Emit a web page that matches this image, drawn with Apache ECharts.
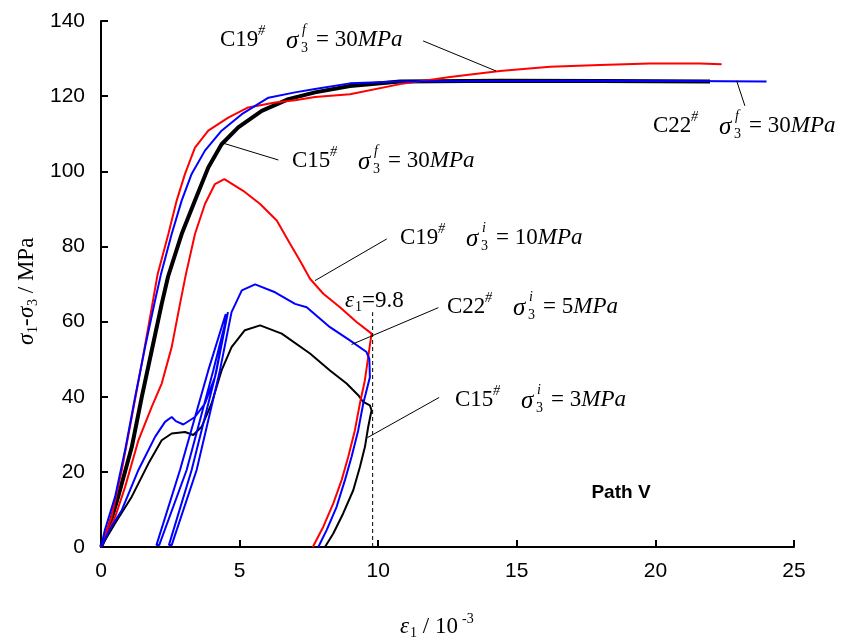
<!DOCTYPE html>
<html>
<head>
<meta charset="utf-8">
<script src="https://cdn.jsdelivr.net/npm/echarts@6/dist/echarts.min.js"></script>
<style>
  html, body { margin: 0; padding: 0; background: #fff; }
  #chart { width: 857px; height: 642px; }
</style>
</head>
<body>
<div id="chart"></div>
<script>
// axis ticks
const xTicks = [0, 5, 10, 15, 20, 25]
const yTicks = [0, 20, 40, 60, 80, 100, 120, 140]

// C19#  sigma3 f = 30 MPa (red, loading)
const c19fX = [0, 0.38, 0.75, 1.11, 1.47, 1.77, 2.04, 2.43, 2.73, 3.03, 3.39, 3.87, 4.59, 5.31, 6.28, 7.0, 7.72, 8.98, 10.79, 12.59, 14.39, 16.2, 18.0, 19.8, 21.6, 22.39]
const c19fY = [0, 8.0, 20.5, 34.6, 48.8, 61.2, 72.5, 83.3, 92.2, 99.3, 106.3, 110.8, 114.3, 117.0, 118.3, 118.9, 119.8, 120.5, 123.2, 125.1, 126.7, 127.8, 128.3, 128.7, 128.7, 128.5]

// C22#  sigma3 f = 30 MPa (blue, loading)
const c22fX = [0, 0.14, 0.51, 0.87, 1.23, 1.59, 1.95, 2.16, 2.55, 2.91, 3.27, 3.75, 4.35, 5.08, 6.04, 7.0, 7.72, 8.98, 10.79, 14.4, 18.0, 21.0, 24.01]
const c22fY = [0, 4.5, 13.4, 25.8, 39.9, 53.2, 65.6, 72.5, 83.3, 92.2, 99.3, 105.5, 110.8, 115.2, 119.6, 121.0, 121.9, 123.4, 123.9, 124.0, 124.1, 124.0, 123.9]

// C15#  sigma3 f = 30 MPa (black, loading)
const c15fX = [0, 0.26, 0.62, 1.11, 1.47, 1.83, 2.19, 2.42, 2.91, 3.39, 3.87, 4.35, 4.95, 5.80, 6.76, 7.72, 8.98, 10.79, 14.39, 18.0, 21.97]
const c15fY = [0, 4.5, 13.4, 26.6, 39.9, 52.3, 64.7, 72.0, 83.3, 92.2, 101.0, 107.2, 111.7, 116.1, 119.2, 121.0, 122.7, 123.9, 124.1, 124.0, 123.9]

// C19#  sigma3 i = 10 MPa (red, load and unload)
const c19iX = [0, 0.51, 0.87, 1.35, 1.83, 2.19, 2.55, 2.85, 3.06, 3.39, 3.75, 4.11, 4.45, 5.13, 5.74, 6.34, 6.82, 7.18, 7.54, 8.02, 8.62, 9.22, 9.76, 9.64, 9.52, 9.34, 9.16, 8.92, 8.68, 8.38, 8.02, 7.64]
const c19iY = [0, 8.0, 16.0, 28.4, 37.3, 43.5, 53.2, 64.7, 72.5, 83.3, 91.3, 96.6, 97.9, 94.8, 91.3, 86.9, 80.7, 76.2, 71.4, 67.4, 63.8, 59.9, 56.8, 50.6, 44.4, 38.2, 31.1, 24.0, 17.8, 11.6, 5.4, 0]

// C22#  sigma3 i = 5 MPa (blue, with unload-reload cycles)
const c22iX = [0, 0.3, 0.75, 1.35, 1.95, 2.31, 2.55, 2.7, 2.97, 3.39, 3.75, 4.11, 4.45, 4.5, 3.87, 2.85, 2.0, 2.1, 3.09, 4.05, 4.58, 4.17, 3.27, 2.45, 2.55, 3.45, 4.29, 4.71, 5.08, 5.56, 6.28, 7.0, 7.42, 8.26, 8.98, 9.58, 9.68, 9.70, 9.46, 9.28, 9.04, 8.80, 8.50, 8.14, 7.84]
const c22iY = [0, 4.5, 9.8, 20.5, 29.3, 33.3, 34.6, 33.5, 32.6, 34.6, 38.2, 45.2, 58.0, 62.0, 47.0, 20.5, 0.5, 0.5, 20.5, 47.0, 62.5, 47.0, 20.5, 0.5, 0.5, 20.5, 47.0, 62.5, 68.3, 69.9, 67.8, 64.7, 63.8, 58.5, 55.0, 51.9, 50.1, 45.2, 38.2, 31.1, 24.0, 17.8, 10.7, 4.5, 0]

// C15#  sigma3 i = 3 MPa (black, load and unload)
const c15iX = [0, 0.51, 1.11, 1.71, 2.19, 2.55, 3.03, 3.33, 3.63, 3.99, 4.35, 4.71, 5.19, 5.74, 6.52, 7.54, 8.26, 8.86, 9.28, 9.46, 9.70, 9.76, 9.64, 9.52, 9.34, 9.10, 8.74, 8.38, 8.08]
const c15iY = [0, 6.3, 13.4, 22.2, 28.4, 30.2, 30.6, 29.8, 32.0, 38.2, 47.0, 53.2, 57.7, 59.0, 56.8, 51.5, 47.0, 43.5, 40.4, 38.6, 37.7, 36.4, 32.0, 26.6, 21.3, 15.1, 9.0, 3.6, 0]

// strain marker eps1 = 9.8
const markX = [9.8, 9.8]
const markY = [0, 62.5]

// leader lines, [x0, y0, x1, y1] in data units
const leaders = [
  [11.62, 134.7, 14.25, 126.7],
  [22.93, 124.1, 23.23, 117.4],
  [4.40, 107.5, 6.40, 103.0],
  [7.72, 70.9, 10.31, 82.0],
  [9.04, 53.9, 12.17, 63.7],
  [9.61, 29.1, 12.20, 39.8]
]

const zip = (xs, ys) => xs.map((x, i) => [x, ys[i]])

const serif = '"Liberation Serif", "Times New Roman", serif'
const sans = '"Liberation Sans", Arial, sans-serif'

function txt(x, y, text, font, extra) {
  return Object.assign({
    type: 'text', x: x, y: y, silent: true,
    style: { text: text, font: font, fill: '#000', verticalAlign: 'middle', textVerticalAlign: 'middle' }
  }, extra || {})
}

// "C19#  σ3f = 30MPa" style label, left edge and vertical middle in pixels
function specimenLabel(left, mid, name, sup, value) {
  return {
    type: 'group', x: left, y: mid, silent: true,
    children: [
      txt(0, 0, name, '23px ' + serif),
      txt(38, -9, '#', 'italic 14px ' + serif),
      txt(66, 1, 'σ', 'italic 25px ' + serif),
      txt(81, 8, '3', '14px ' + serif),
      txt(82, -10, sup, 'italic 14px ' + serif),
      {
        type: 'text', x: 96, y: 0, silent: true,
        style: {
          text: '= ' + value + '{i|MPa}', font: '23px ' + serif, fill: '#000',
          verticalAlign: 'middle', textVerticalAlign: 'middle',
          rich: { i: { fontStyle: 'italic', fontSize: 23, fontFamily: serif } }
        }
      }
    ]
  }
}

const line = (name, xs, ys, color, width) => ({
  name: name, type: 'line', data: zip(xs, ys), symbol: 'none', showSymbol: false,
  lineStyle: { color: color, width: width }, itemStyle: { color: color },
  silent: true, animation: false
})

const series = [
  line('C15f', c15fX, c15fY, '#000', 4),
  line('C15i', c15iX, c15iY, '#000', 2),
  line('C19f', c19fX, c19fY, '#ff0000', 2),
  line('C19i', c19iX, c19iY, '#ff0000', 2),
  line('C22i', c22iX, c22iY, '#0000ff', 2),
  line('C22f', c22fX, c22fY, '#0000ff', 2),
  {
    type: 'line', data: zip(markX, markY), symbol: 'none', silent: true, animation: false,
    lineStyle: { color: '#000', width: 1, type: [4, 3] }
  }
]
leaders.forEach(l => {
  series.push({
    type: 'line', data: [[l[0], l[1]], [l[2], l[3]]], symbol: 'none', silent: true, animation: false,
    lineStyle: { color: '#000', width: 1 }
  })
})

const axisCommon = {
  type: 'value',
  axisLine: { show: true, lineStyle: { color: '#000', width: 2 } },
  axisTick: { show: true, inside: true, length: 7, lineStyle: { color: '#000', width: 2 } },
  axisLabel: { color: '#000', fontFamily: sans, fontSize: 21 },
  splitLine: { show: false }
}

const chart = echarts.init(document.getElementById('chart'), null, { renderer: 'canvas' })
chart.setOption({
  animation: false,
  backgroundColor: '#fff',
  grid: { left: 101, right: 63, top: 21, bottom: 95, containLabel: false, outerBoundsMode: 'none' },
  xAxis: Object.assign({}, axisCommon, {
    min: xTicks[0], max: xTicks[xTicks.length - 1], interval: xTicks[1] - xTicks[0],
    axisLabel: Object.assign({}, axisCommon.axisLabel, { margin: 14 })
  }),
  yAxis: Object.assign({}, axisCommon, {
    min: yTicks[0], max: yTicks[yTicks.length - 1], interval: yTicks[1] - yTicks[0],
    axisLabel: Object.assign({}, axisCommon.axisLabel, { margin: 16 })
  }),
  series: series,
  graphic: [
    specimenLabel(220, 40, 'C19', 'f', '30'),
    specimenLabel(653, 126, 'C22', 'f', '30'),
    specimenLabel(292, 161, 'C15', 'f', '30'),
    specimenLabel(400, 238, 'C19', 'i', '10'),
    specimenLabel(447, 307, 'C22', 'i', '5'),
    specimenLabel(455, 400, 'C15', 'i', '3'),
    {
      type: 'group', x: 345, y: 301, silent: true,
      children: [
        txt(0, 0, 'ε', 'italic 23px ' + serif),
        txt(10, 6, '1', '14px ' + serif),
        txt(17, 0, '=9.8', '23px ' + serif)
      ]
    },
    txt(621, 493, 'Path V', 'bold 19px ' + sans, { style: { text: 'Path V', font: 'bold 19px ' + sans, fill: '#000', textAlign: 'center', verticalAlign: 'middle', textVerticalAlign: 'middle' } }),
    {
      // y axis title, reads bottom to top
      type: 'group', x: 27, y: 345, rotation: Math.PI / 2, silent: true,
      children: [
        txt(0, 0, 'σ', 'italic 23px ' + serif),
        txt(12, 6, '1', '14px ' + serif),
        txt(19, 0, '-', '23px ' + serif),
        txt(27, 0, 'σ', 'italic 23px ' + serif),
        txt(39, 6, '3', '14px ' + serif),
        txt(46, 0, ' / MPa', '23px ' + serif)
      ]
    },
    {
      // x axis title
      type: 'group', x: 400, y: 627, silent: true,
      children: [
        txt(0, 0, 'ε', 'italic 23px ' + serif),
        txt(10, 6, '1', '14px ' + serif),
        txt(17, 0, ' / 10', '23px ' + serif),
        txt(62, -8, '-3', '14px ' + serif)
      ]
    }
  ]
})
</script>
</body>
</html>
